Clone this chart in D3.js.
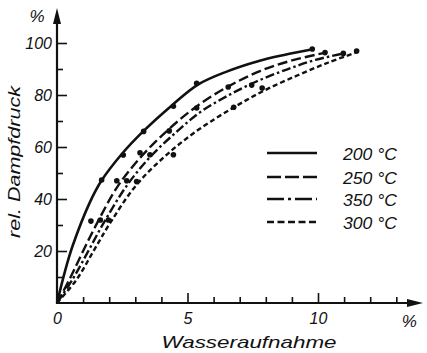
<!DOCTYPE html>
<html>
<head>
<meta charset="utf-8">
<script src="https://cdn.jsdelivr.net/npm/d3@7"></script>
<style>
  body { margin: 0; background: #fff; }
  text { font-family: "Liberation Sans", Arial, sans-serif; font-style: italic; fill: #111; }
</style>
</head>
<body>
<svg id="chart" width="427" height="353"></svg>
<script>
// curves (x = Wasseraufnahme %, y = rel. Dampfdruck %)
const series = ["200 °C", "250 °C", "350 °C", "300 °C"];

const curve200x = [0, 0.3, 0.6, 1.25, 1.7, 2.5, 3.3, 4.4, 5.4, 6.5, 7.7, 8.7, 9.8];
const curve200y = [0, 12, 22, 38.5, 47, 57.5, 66, 76, 84, 89, 93, 95.4, 97.6];

const curve250x = [0, 0.5, 1.0, 1.55, 2.3, 3.2, 4.3, 5.4, 6.6, 7.8, 9.0, 10.3];
const curve250y = [0, 9.5, 20, 31, 44.5, 56, 67, 76, 83.5, 89.3, 93.3, 96.3];

const curve350x = [0, 0.62, 1.2, 1.8, 2.7, 3.6, 4.6, 5.5, 6.5, 7.6, 8.8, 9.9, 11.0];
const curve350y = [0, 9.5, 20, 31, 45.5, 56.5, 66, 73.5, 79.5, 85, 89.8, 93.5, 96];

const curve300x = [0, 0.75, 1.4, 2.05, 3.05, 4.2, 5.4, 6.7, 7.9, 9.2, 10.4, 11.5];
const curve300y = [0, 9, 20, 31, 45.5, 57, 66.5, 74.8, 81.5, 87.5, 92.5, 96.5];

// measured points
const dots200x = [1.71, 2.54, 3.32, 4.46, 5.35, 9.78];
const dots200y = [47.3, 56.9, 66, 75.7, 84.5, 97.7];
const dots250x = [1.30, 2.29, 3.18, 4.3, 6.56, 10.27];
const dots250y = [31.5, 47, 57.8, 66.2, 83.1, 96.3];
const dots350x = [1.66, 2.67, 3.56, 5.35, 7.46, 10.97];
const dots350y = [31.9, 47, 57, 75, 83.8, 96];
const dots300x = [1.97, 3.05, 4.46, 6.77, 7.86, 11.48];
const dots300y = [31.9, 46.7, 57, 75.3, 82.7, 96.9];

const yMajor = [20, 40, 60, 80, 100];
const yMinor = [10, 30, 50, 70, 90];
const xMajor = [0, 5, 10];
const xMinor = [1, 2, 3, 4, 6, 7, 8, 9, 11, 12, 13];

const svg = d3.select("#chart");

const x = d3.scaleLinear().domain([0, 10]).range([57, 318]);
const y = d3.scaleLinear().domain([0, 100]).range([303, 43]);

const curves = [
  { x: curve200x, y: curve200y, dots: [dots200x, dots200y], dash: null, legDash: null, w: 2.6 },
  { x: curve250x, y: curve250y, dots: [dots250x, dots250y], dash: "10,4", legDash: "14,4", w: 2.4 },
  { x: curve350x, y: curve350y, dots: [dots350x, dots350y], dash: "9,3,2.5,3", legDash: "17,4,3,4", w: 2.4 },
  { x: curve300x, y: curve300y, dots: [dots300x, dots300y], dash: "5,3", legDash: "7,3.5", w: 2.4 }
];

// axes
const yAxisMajor = d3.axisLeft(y).tickValues(yMajor).tickSizeInner(-10).tickSizeOuter(0).tickPadding(5);
const yAxisMinor = d3.axisLeft(y).tickValues(yMinor).tickSizeInner(-6).tickSizeOuter(0).tickFormat("");
const xAxisMajor = d3.axisBottom(x).tickValues(xMajor).tickSizeInner(-10).tickSizeOuter(0).tickPadding(10);
const xAxisMinor = d3.axisBottom(x).tickValues(xMinor).tickSizeInner(-6).tickSizeOuter(0).tickFormat("");

function styleAxis(g) {
  g.select(".domain").remove();
  g.selectAll("line").attr("stroke", "#111").attr("stroke-width", 1.6);
  g.selectAll("text").attr("font-size", 16).attr("font-family", null).attr("fill", "#111");
}

svg.append("g").attr("transform", `translate(${x(0)},0)`).call(yAxisMajor).call(styleAxis)
  .selectAll("text").attr("dy", "0.35em");
svg.append("g").attr("transform", `translate(${x(0)},0)`).call(yAxisMinor).call(styleAxis);
svg.append("g").attr("transform", `translate(0,${y(0)})`).call(xAxisMajor).call(styleAxis)
  .selectAll("line").filter(d => d === 0).remove();
svg.append("g").attr("transform", `translate(0,${y(0)})`).call(xAxisMinor).call(styleAxis);

// axis lines with arrows
svg.append("line").attr("x1", x(0)).attr("x2", x(0)).attr("y1", y(0) + 1).attr("y2", 18)
  .attr("stroke", "#111").attr("stroke-width", 2.2);
svg.append("path").attr("d", `M${x(0)},8 L${x(0) - 4},24 L${x(0) + 4},24 Z`).attr("fill", "#111");
svg.append("line").attr("x1", x(0) - 1).attr("x2", 412).attr("y1", y(0)).attr("y2", y(0))
  .attr("stroke", "#111").attr("stroke-width", 2.2);
svg.append("path").attr("d", `M423,${y(0)} L407,${y(0) - 4} L407,${y(0) + 4} Z`).attr("fill", "#111");

// axis titles
svg.append("text").attr("x", 37).attr("y", 22).attr("text-anchor", "middle").attr("font-size", 17).text("%");
svg.append("text").attr("x", x(13.5)).attr("y", 327).attr("text-anchor", "middle").attr("font-size", 17).text("%");
svg.append("text").attr("x", 249).attr("y", 348).attr("text-anchor", "middle").attr("font-size", 17)
  .attr("textLength", 175).attr("lengthAdjust", "spacingAndGlyphs").text("Wasseraufnahme");
svg.append("text").attr("transform", "translate(20,162) rotate(-90)").attr("text-anchor", "middle")
  .attr("font-size", 17).attr("textLength", 152).attr("lengthAdjust", "spacingAndGlyphs").text("rel. Dampfdruck");

// curves
const line = d3.line().x(d => x(d[0])).y(d => y(d[1])).curve(d3.curveCatmullRom.alpha(0.5));

curves.forEach(c => {
  const pts = c.x.map((v, i) => [v, c.y[i]]);
  svg.append("path").datum(pts).attr("d", line)
    .attr("fill", "none").attr("stroke", "#111").attr("stroke-width", c.w)
    .attr("stroke-dasharray", c.dash);
  svg.selectAll(null).data(c.dots[0].map((v, i) => [v, c.dots[1][i]])).enter()
    .append("circle").attr("cx", d => x(d[0])).attr("cy", d => y(d[1])).attr("r", 2.8).attr("fill", "#111");
});

// legend
const legY = [153, 177, 199, 222];
curves.forEach((c, i) => {
  svg.append("line").attr("x1", 267).attr("x2", 317).attr("y1", legY[i]).attr("y2", legY[i])
    .attr("stroke", "#111").attr("stroke-width", 2.6).attr("stroke-dasharray", c.legDash);
  svg.append("text").attr("x", 343).attr("y", legY[i] + 7).attr("font-size", 17)
    .attr("textLength", 54).attr("lengthAdjust", "spacingAndGlyphs").text(series[i]);
});
</script>
</body>
</html>
